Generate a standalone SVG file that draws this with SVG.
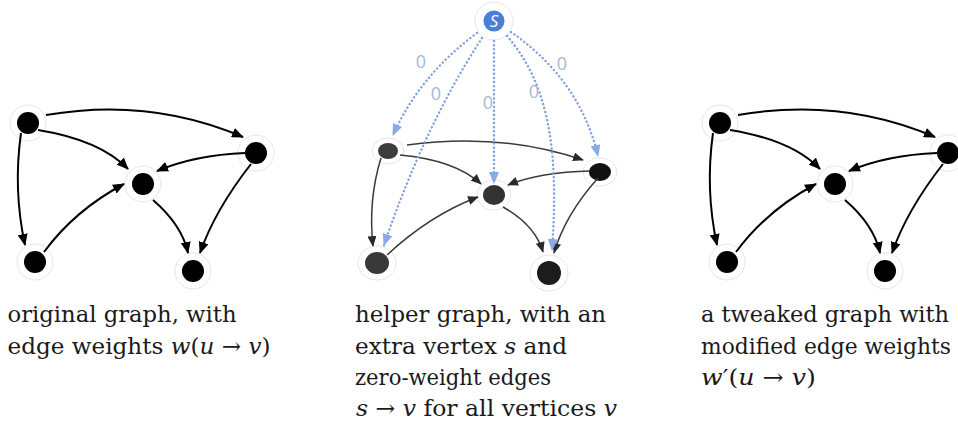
<svg xmlns="http://www.w3.org/2000/svg" width="958" height="424" viewBox="0 0 958 424">
  <style>
    .halo { fill: #ffffff; stroke: #e6e6e6; stroke-width: 1; }
    .node { fill: #000000; }
    .edge { fill: none; stroke: #000000; stroke-width: 2; }
    .edge2 { fill: none; stroke: #3a3a3a; stroke-width: 1.5; }
    .zero { fill: none; stroke: #7f9fdc; stroke-width: 2.4; stroke-dasharray: 0.1 4; stroke-linecap: round; }
    .wlabel { font-family: "Open Sans", "Noto Sans", sans-serif; font-size: 18px; fill: #a8b8d6; text-anchor: middle; }
    .cap { font-family: "DejaVu Serif", "Liberation Serif", serif; font-size: 23px; fill: #1a1a1a; }
    .m { font-style: italic; }
  </style>
  <defs>
    <marker id="arr" viewBox="0 0 12 10" refX="11" refY="5" markerWidth="12" markerHeight="10" orient="auto" markerUnits="userSpaceOnUse">
      <path d="M0,0 L12,5 L0,10 z" fill="#000000"/>
    </marker>
    <marker id="arr2" viewBox="0 0 12 10" refX="11" refY="5" markerWidth="11" markerHeight="9" orient="auto" markerUnits="userSpaceOnUse">
      <path d="M0,0 L12,5 L0,10 z" fill="#2a2a2a"/>
    </marker>
    <marker id="arrb" viewBox="0 0 12 10" refX="11" refY="5" markerWidth="12" markerHeight="10" orient="auto" markerUnits="userSpaceOnUse">
      <path d="M0,0 L12,5 L0,10 z" fill="#8aaae6"/>
    </marker>
  </defs>

  <!-- Original graph -->
  <g id="graph-original">
    <g id="orig-a"><circle class="halo" cx="28" cy="123" r="18"/><circle class="node" cx="28" cy="123" r="11"/></g>
    <g id="orig-b"><circle class="halo" cx="256" cy="153" r="18"/><circle class="node" cx="256" cy="153" r="11"/></g>
    <g id="orig-c"><circle class="halo" cx="143" cy="184" r="18"/><circle class="node" cx="143" cy="184" r="11"/></g>
    <g id="orig-d"><circle class="halo" cx="35" cy="262" r="18"/><circle class="node" cx="35" cy="262" r="11"/></g>
    <g id="orig-e"><circle class="halo" cx="193" cy="271" r="18"/><circle class="node" cx="193" cy="271" r="11"/></g>
    <g id="orig-edges">
      <path class="edge" d="M46,115 Q150,97 243,137" marker-end="url(#arr)"/>
      <path class="edge" d="M38,130 Q100,140 128,169" marker-end="url(#arr)"/>
      <path class="edge" d="M21,133 Q13,190 25,245" marker-end="url(#arr)"/>
      <path class="edge" d="M44,252 Q75,210 124,184" marker-end="url(#arr)"/>
      <path class="edge" d="M245,153 Q195,155 157,171" marker-end="url(#arr)"/>
      <path class="edge" d="M153,200 Q182,225 188,253" marker-end="url(#arr)"/>
      <path class="edge" d="M251,164 Q215,210 200,253" marker-end="url(#arr)"/>
    </g>
  </g>

  <!-- Helper graph with extra source vertex -->
  <g id="graph-helper">
    <g id="help-a"><ellipse class="halo" cx="388" cy="151" rx="16" ry="13"/><ellipse cx="388" cy="151" rx="10" ry="8" fill="#3c3c3c"/></g>
    <g id="help-b"><ellipse class="halo" cx="600" cy="172" rx="17" ry="14"/><ellipse cx="600" cy="172" rx="11" ry="9" fill="#111111"/></g>
    <g id="help-c"><ellipse class="halo" cx="494" cy="195" rx="17" ry="15"/><ellipse cx="494" cy="195" rx="11" ry="10" fill="#333333"/></g>
    <g id="help-d"><ellipse class="halo" cx="377" cy="263" rx="19" ry="17"/><ellipse cx="377" cy="263" rx="12" ry="11" fill="#383838"/></g>
    <g id="help-e"><ellipse class="halo" cx="549" cy="273" rx="19" ry="18"/><ellipse cx="549" cy="273" rx="12" ry="12" fill="#1c1c1c"/></g>
    <g id="help-s"><circle class="halo" cx="494" cy="21" r="19"/><circle cx="494" cy="21" r="10.5" fill="#4a7fd6"/>
      <text x="494" y="27" font-family="Open Sans, Noto Sans, sans-serif" font-size="17" font-style="italic" fill="#ffffff" text-anchor="middle">S</text></g>
    <g id="help-edges">
      <path class="edge2" d="M407,145 Q500,132 583,160" marker-end="url(#arr2)"/>
      <path class="edge2" d="M400,155 Q455,160 481,184" marker-end="url(#arr2)"/>
      <path class="edge2" d="M381,158 Q368,200 373,246" marker-end="url(#arr2)"/>
      <path class="edge2" d="M387,255 Q430,215 478,197" marker-end="url(#arr2)"/>
      <path class="edge2" d="M590,171 Q540,172 508,185" marker-end="url(#arr2)"/>
      <path class="edge2" d="M503,207 Q535,225 543,252" marker-end="url(#arr2)"/>
      <path class="edge2" d="M598,178 Q565,215 554,253" marker-end="url(#arr2)"/>
    </g>
    <g id="zero-edges">
      <path class="zero" d="M477,33 Q420,75 393,135" marker-end="url(#arrb)"/>
      <path class="zero" d="M482,38 Q425,125 384,245" marker-end="url(#arrb)"/>
      <path class="zero" d="M494,41 L494,183" marker-end="url(#arrb)"/>
      <path class="zero" d="M507,36 C545,80 560,140 552,250" marker-end="url(#arrb)"/>
      <path class="zero" d="M511,32 Q580,80 598,156" marker-end="url(#arrb)"/>
      <text class="wlabel" x="421" y="68">0</text>
      <text class="wlabel" x="436" y="100">0</text>
      <text class="wlabel" x="488" y="109">0</text>
      <text class="wlabel" x="534" y="98">0</text>
      <text class="wlabel" x="562" y="70">0</text>
    </g>
  </g>

  <!-- Reweighted graph (same shape as the original) -->
  <g id="graph-tweaked" transform="translate(692,0)">
    <g id="tw-a"><circle class="halo" cx="28" cy="123" r="18"/><circle class="node" cx="28" cy="123" r="11"/></g>
    <g id="tw-b"><circle class="halo" cx="256" cy="153" r="18"/><circle class="node" cx="256" cy="153" r="11"/></g>
    <g id="tw-c"><circle class="halo" cx="143" cy="184" r="18"/><circle class="node" cx="143" cy="184" r="11"/></g>
    <g id="tw-d"><circle class="halo" cx="35" cy="262" r="18"/><circle class="node" cx="35" cy="262" r="11"/></g>
    <g id="tw-e"><circle class="halo" cx="193" cy="271" r="18"/><circle class="node" cx="193" cy="271" r="11"/></g>
    <g id="tw-edges">
      <path class="edge" d="M46,115 Q150,97 243,137" marker-end="url(#arr)"/>
      <path class="edge" d="M38,130 Q100,140 128,169" marker-end="url(#arr)"/>
      <path class="edge" d="M21,133 Q13,190 25,245" marker-end="url(#arr)"/>
      <path class="edge" d="M44,252 Q75,210 124,184" marker-end="url(#arr)"/>
      <path class="edge" d="M245,153 Q195,155 157,171" marker-end="url(#arr)"/>
      <path class="edge" d="M153,200 Q182,225 188,253" marker-end="url(#arr)"/>
      <path class="edge" d="M251,164 Q215,210 200,253" marker-end="url(#arr)"/>
    </g>
  </g>

  <!-- Captions -->
  <g id="captions">
    <text class="cap" x="7.5" y="322" textLength="229" lengthAdjust="spacingAndGlyphs">original graph, with</text>
    <text class="cap" x="7.5" y="354" textLength="263" lengthAdjust="spacingAndGlyphs">edge weights <tspan class="m">w</tspan>(<tspan class="m">u</tspan> → <tspan class="m">v</tspan>)</text>

    <text class="cap" x="355" y="322" textLength="251" lengthAdjust="spacingAndGlyphs">helper graph, with an</text>
    <text class="cap" x="355" y="354" textLength="212" lengthAdjust="spacingAndGlyphs">extra vertex <tspan class="m">s</tspan> and</text>
    <text class="cap" x="355" y="385" textLength="196" lengthAdjust="spacingAndGlyphs">zero-weight edges</text>
    <text class="cap" x="356" y="416" textLength="261" lengthAdjust="spacingAndGlyphs"><tspan class="m">s</tspan> → <tspan class="m">v</tspan> for all vertices <tspan class="m">v</tspan></text>

    <text class="cap" x="701" y="322" textLength="248" lengthAdjust="spacingAndGlyphs">a tweaked graph with</text>
    <text class="cap" x="701" y="354" font-size="20" textLength="250" lengthAdjust="spacingAndGlyphs">modified edge weights</text>
    <text class="cap" x="701" y="385" textLength="115" lengthAdjust="spacingAndGlyphs"><tspan class="m">w</tspan>′(<tspan class="m">u</tspan> → <tspan class="m">v</tspan>)</text>
  </g>
</svg>
